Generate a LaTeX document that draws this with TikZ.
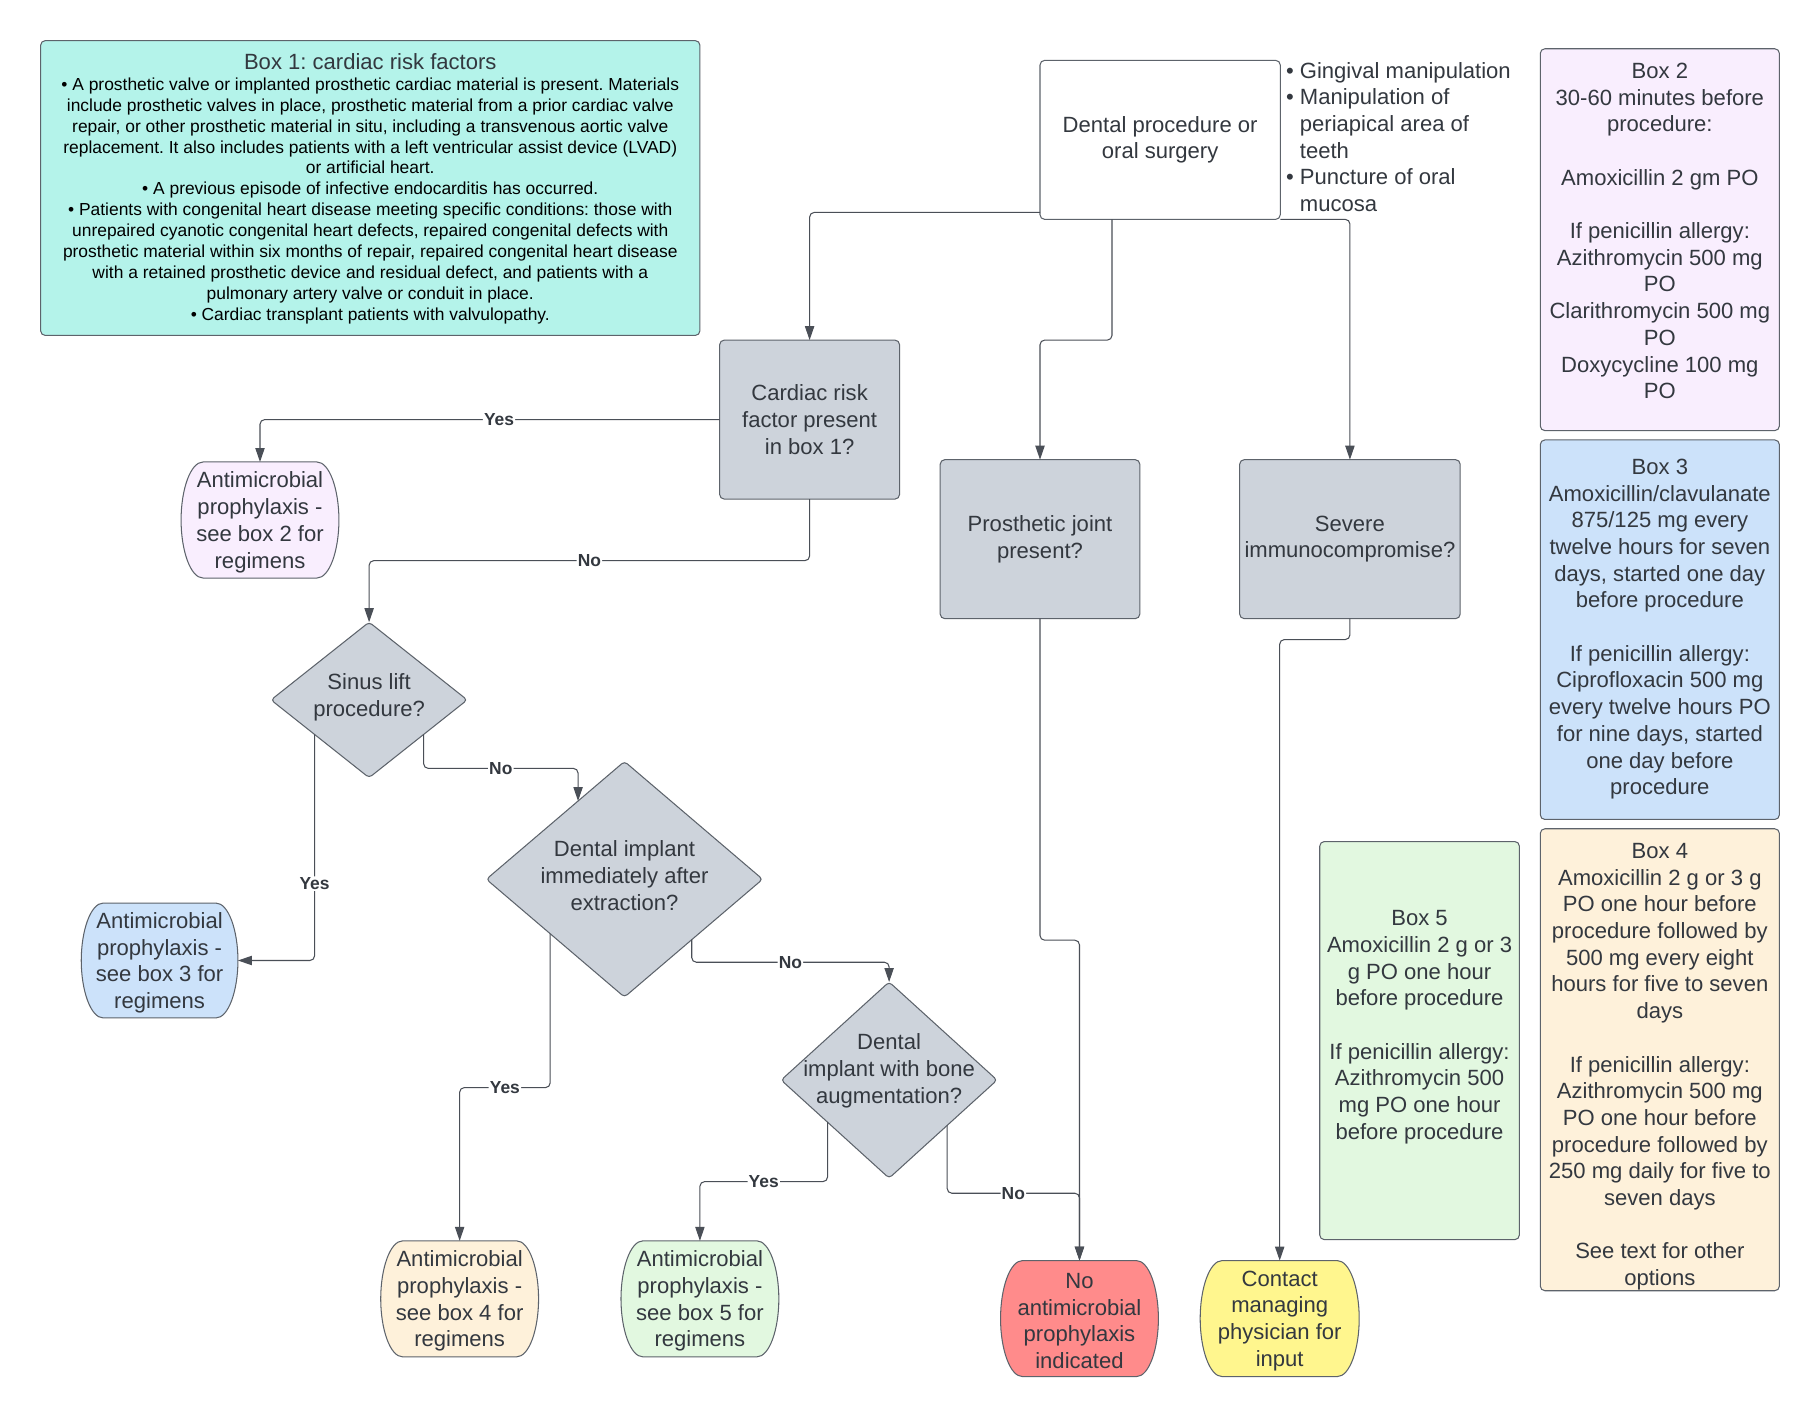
\documentclass[tikz,border=0pt]{standalone}
\usepackage{fontspec}
\setmainfont{Liberation Sans}
\frenchspacing
\usetikzlibrary{shapes.geometric,arrows.meta,calc,backgrounds}
\definecolor{boxone}{HTML}{B4F3EA}
\definecolor{lav}{HTML}{F9EEFE}
\definecolor{lblue}{HTML}{CCE2FA}
\definecolor{peach}{HTML}{FEF1DA}
\definecolor{lgreen}{HTML}{E2F8E0}
\definecolor{decgray}{HTML}{CDD3DB}
\definecolor{pred}{HTML}{FF8B8B}
\definecolor{pyellow}{HTML}{FFF68E}
\definecolor{edgec}{HTML}{5D636B}
\definecolor{linec}{HTML}{4A4F57}
\definecolor{txtc}{HTML}{33383F}
\newcommand\pillout[2]{%
  \path[draw=edgec, line width=0.9pt, fill=#2]
   let \p1=(#1.north west), \p2=(#1.south east), \p3=(#1.west) in
   (\x1+19pt,\y1) -- (\x2-19pt,\y1)
   .. controls (\x2-8pt,\y1) and (\x2,\y1-24pt) .. (\x2,\y3)
   .. controls (\x2,\y2+24pt) and (\x2-8pt,\y2) .. (\x2-19pt,\y2)
   -- (\x1+19pt,\y2)
   .. controls (\x1+8pt,\y2) and (\x1,\y2+24pt) .. (\x1,\y3)
   .. controls (\x1,\y1-24pt) and (\x1+8pt,\y1) .. cycle;}
\begin{document}
\begin{tikzpicture}[x=1pt,y=-1pt,
  every node/.style={inner sep=0pt, outer sep=0pt},
  mainfont/.style={font=\fontsize{19}{23}\selectfont},
  boxst/.style={draw=edgec, line width=0.9pt, rounded corners=4pt, rectangle, text=txtc, mainfont, align=center},
  decbox/.style={boxst, fill=decgray},
  decdia/.style={diamond, draw=edgec, line width=0.9pt, rounded corners=3pt, fill=decgray},
  pillnode/.style={rectangle, minimum width=136, minimum height=100},
  ptext/.style={text=txtc, mainfont, align=center},
  lbl/.style={fill=white, inner sep=1pt, text=txtc, font=\fontsize{15}{17}\selectfont\bfseries},
  arr/.style={draw=linec, line width=0.9pt, rounded corners=4pt, -{Triangle[length=12pt,width=8pt]}}
]
\begin{pgfonlayer}{background}
\fill[white] (0,0) rectangle (1568,1220.8);
\end{pgfonlayer}
\useasboundingbox (0,0) rectangle (1568,1220.8);

% Box 1
\node[boxst, fill=boxone, minimum width=568, minimum height=254] (box1) at (319,162) {};
\node[mainfont, text=txtc] (box1t) at (319,53) {Box 1: cardiac risk factors};
\node[font=\fontsize{15}{18}\selectfont, align=center, text=black] (box1b) at (319,173) {%
• A prosthetic valve or implanted prosthetic cardiac material is present. Materials\\
include prosthetic valves in place, prosthetic material from a prior cardiac valve\\
repair, or other prosthetic material in situ, including a transvenous aortic valve\\
replacement. It also includes patients with a left ventricular assist device (LVAD)\\
or artificial heart.\\
• A previous episode of infective endocarditis has occurred.\\
• Patients with congenital heart disease meeting specific conditions: those with\\
unrepaired cyanotic congenital heart defects, repaired congenital defects with\\
prosthetic material within six months of repair, repaired congenital heart disease\\
with a retained prosthetic device and residual defect, and patients with a\\
pulmonary artery valve or conduit in place.\\
• Cardiac transplant patients with valvulopathy.};

% Top box and list
\node[boxst, fill=white, minimum width=207, minimum height=137] (dental) at (999.5,120.5) {Dental procedure or\\oral surgery};
\node[mainfont, text=txtc, align=left, anchor=west] (list) at (1108,118) {%
• Gingival manipulation\\
• Manipulation of\\
\phantom{• }periapical area of\\
\phantom{• }teeth\\
• Puncture of oral\\
\phantom{• }mucosa};

% Right boxes
\node[boxst, fill=lav, minimum width=206, minimum height=329] (box2) at (1430,206.5) {};
\node[ptext] (box2t) at (1430,199) {Box 2\\30-60 minutes before\\procedure:\\[23pt]Amoxicillin 2 gm PO\\[23pt]If penicillin allergy:\\Azithromycin 500 mg\\PO\\Clarithromycin 500 mg\\PO\\Doxycycline 100 mg\\PO};
\node[boxst, fill=lblue, minimum width=206, minimum height=327] (box3) at (1430,542.5) {};
\node[ptext] (box3t) at (1430,542) {Box 3\\Amoxicillin/clavulanate\\875/125 mg every\\twelve hours for seven\\days, started one day\\before procedure\\[23pt]If penicillin allergy:\\Ciprofloxacin 500 mg\\every twelve hours PO\\for nine days, started\\one day before\\procedure};
\node[boxst, fill=peach, minimum width=206, minimum height=398] (box4) at (1430,913) {};
\node[ptext] (box4t) at (1430,919) {Box 4\\Amoxicillin 2 g or 3 g\\PO one hour before\\procedure followed by\\500 mg every eight\\hours for five to seven\\days\\[23pt]If penicillin allergy:\\Azithromycin 500 mg\\PO one hour before\\procedure followed by\\250 mg daily for five to\\seven days\\[23pt]See text for other\\options};
\node[boxst, fill=lgreen, minimum width=172, minimum height=343] (box5) at (1223,896.5) {};
\node[ptext] (box5t) at (1223,885) {Box 5\\Amoxicillin 2 g or 3\\g PO one hour\\before procedure\\[23pt]If penicillin allergy:\\Azithromycin 500\\mg PO one hour\\before procedure};

% Decision boxes
\node[decbox, minimum width=155, minimum height=137] (card) at (697.5,361.5) {Cardiac risk\\factor present\\in box 1?};
\node[decbox, minimum width=172, minimum height=137] (pros) at (896,464.5) {Prosthetic joint\\present?};
\node[decbox, minimum width=190, minimum height=137] (sev) at (1163,464.5) {Severe\\immunocompromise?};

% Diamonds
\node[decdia, minimum width=169, minimum height=134, label={[ptext,yshift=2pt]center:Sinus lift\\procedure?}] (sinus) at (318,603) {};
\node[decdia, minimum width=238, minimum height=203, label={[ptext,yshift=3pt]center:Dental implant\\immediately after\\extraction?}] (immed) at (538,757.5) {};
\node[decdia, minimum width=186, minimum height=169, label={[ptext,yshift=8pt]center:Dental\\implant with bone\\augmentation?}] (bone) at (766,930.5) {};

% Pills (outline drawn on background layer)
\node[pillnode] (pill2) at (224,448) {};
\node[pillnode, minimum width=135, minimum height=99] (pill3) at (137.5,827.5) {};
\node[pillnode] (pill4) at (396,1119) {};
\node[pillnode] (pill5) at (603,1119) {};
\node[pillnode] (noam) at (930,1136) {};
\node[pillnode, minimum width=137] (contact) at (1102.5,1136) {};
\begin{pgfonlayer}{background}
\pillout{pill2}{lav}
\pillout{pill3}{lblue}
\pillout{pill4}{peach}
\pillout{pill5}{lgreen}
\pillout{noam}{pred}
\pillout{contact}{pyellow}
\end{pgfonlayer}
\node[ptext] (pill2t) at ($(pill2)+(0,2)$) {Antimicrobial\\prophylaxis -\\see box 2 for\\regimens};
\node[ptext] (pill3t) at ($(pill3)+(0,2)$) {Antimicrobial\\prophylaxis -\\see box 3 for\\regimens};
\node[ptext] (pill4t) at ($(pill4)+(0,2)$) {Antimicrobial\\prophylaxis -\\see box 4 for\\regimens};
\node[ptext] (pill5t) at ($(pill5)+(0,2)$) {Antimicrobial\\prophylaxis -\\see box 5 for\\regimens};
\node[ptext] (noamt) at ($(noam)+(0,2)$) {No\\antimicrobial\\prophylaxis\\indicated};
\node[ptext] (contactt) at ($(contact)+(0,2)$) {Contact\\managing\\physician for\\input};

% Edge points on diamonds
\coordinate (s6) at ($(sinus.west)!0.444!(sinus.south)$);
\coordinate (s7) at ($(sinus.south)!0.556!(sinus.east)$);
\coordinate (i7) at ($(immed.north)!0.336!(immed.west)$);
\coordinate (i8) at ($(immed.west)!0.462!(immed.south)$);
\coordinate (i9) at ($(immed.south)!0.487!(immed.east)$);
\coordinate (b10) at ($(bone.west)!0.43!(bone.south)$);
\coordinate (b11) at ($(bone.south)!0.538!(bone.east)$);

% Connectors
\draw[arr] (dental.west |- 0,183) -| (card.north);
\draw[arr] (dental.south -| 958,0) -- (958,293) -| (pros.north);
\draw[arr] (dental.south east) -| (sev.north);
\draw[arr] (card.west) -| node[lbl,pos=0.24]{Yes} (pill2.north);
\draw[arr] (card.south) -- ++(0,53) -| node[lbl,pos=0.25]{No} (sinus.north);
\draw[arr] (s6) |- node[lbl,pos=0.33]{Yes} (pill3.east);
\draw[arr] (s7) -- (s7 |- 0,662) -| node[lbl,pos=0.25]{No} (i7);
\draw[arr] (i8) -- (i8 |- 0,937) -| node[lbl,pos=0.25]{Yes} (pill4.north);
\draw[arr] (i9) -- (i9 |- 0,829) -| node[lbl,pos=0.25]{No} (bone.north);
\draw[arr] (b10) -- (b10 |- 0,1018) -| node[lbl,pos=0.25]{Yes} (pill5.north);
\draw[arr] (b11) -- (b11 |- 0,1028) -| node[lbl,pos=0.25]{No} (noam.north);
\draw[arr] (pros.south) -- ++(0,277) -| (noam.north);
\draw[arr] (sev.south) -- ++(0,18) -| (contact.north);
\end{tikzpicture}
\end{document}
